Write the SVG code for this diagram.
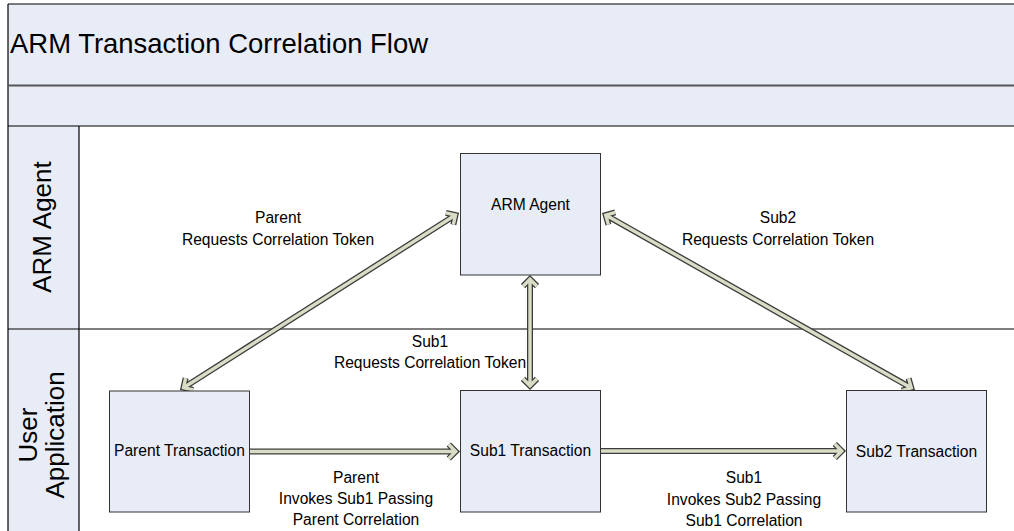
<svg xmlns="http://www.w3.org/2000/svg" width="1014" height="531" viewBox="0 0 1014 531">
<style>
.band{fill:#E8ECF6;}
.box{fill:#E8ECF6;stroke:#333333;stroke-width:1;}
.t{font-family:"Liberation Sans",Arial,sans-serif;fill:#000;text-anchor:middle;}
.sm{font-size:15.6px;}
.lane{font-size:26px;}
.ao{fill:none;stroke:#3C3C3C;stroke-width:6;stroke-linejoin:miter;stroke-miterlimit:10;}
.ai{fill:none;stroke:#DADDC6;stroke-width:3.4;stroke-linejoin:miter;stroke-miterlimit:10;}
</style>
<rect x="0" y="0" width="1014" height="531" fill="#FFFFFF"/>
<g id="pool">
<rect class="band" x="8" y="4" width="1006" height="122"/>
<rect class="band" x="8" y="126" width="71" height="405"/>
<line x1="8" y1="4" x2="1014" y2="4" stroke="#000" stroke-width="1.2"/>
<line x1="8" y1="4" x2="8" y2="531" stroke="#000" stroke-width="1.2"/>
<line x1="8" y1="85.5" x2="1014" y2="85.5" stroke="#555" stroke-width="2"/>
<line x1="8" y1="126" x2="1014" y2="126" stroke="#000" stroke-width="1.2"/>
<line x1="79" y1="126" x2="79" y2="531" stroke="#000" stroke-width="1.2"/>
<line x1="8" y1="329" x2="1014" y2="329" stroke="#000" stroke-width="1.2"/>
<text x="10" y="53" font-family="Liberation Sans,Arial,sans-serif" font-size="28" textLength="418" lengthAdjust="spacingAndGlyphs">ARM Transaction Correlation Flow</text>
</g>
<g id="lane-arm-agent">
<text class="t lane" transform="translate(51,227) rotate(-90)">ARM Agent</text>
</g>
<g id="lane-user-application">
<text class="t lane" transform="translate(37,435) rotate(-90)">User</text>
<text class="t lane" transform="translate(64,435) rotate(-90)">Application</text>
</g>
<g id="connectors">
<path class="ao" d="M183.5,387.7 L455.5,215 M453.35,224.65 L455.5,215 L445.85,212.85 M193.15,389.85 L183.5,387.7 L185.65,378.05"/>
<path class="ao" d="M605.7,215.1 L911.3,387.9 M608.4,224.6 L605.7,215.1 L615.2,212.4 M901.8,390.6 L911.3,387.9 L908.6,378.4"/>
<path class="ao" d="M530,279.2 L530,385.8 M523,286.2 L530,279.2 L537,286.2 M523,378.8 L530,385.8 L537,378.8"/>
<path class="ao" d="M249,451.5 L455,451.5 M448.8,444.5 L455.8,451.5 L448.8,458.5"/>
<path class="ao" d="M600,451 L841,451 M834.8,444 L841.8,451 L834.8,458"/>
<path class="ai" d="M183.5,387.7 L455.5,215 M453.35,224.65 L455.5,215 L445.85,212.85 M193.15,389.85 L183.5,387.7 L185.65,378.05"/>
<path class="ai" d="M605.7,215.1 L911.3,387.9 M608.4,224.6 L605.7,215.1 L615.2,212.4 M901.8,390.6 L911.3,387.9 L908.6,378.4"/>
<path class="ai" d="M530,279.2 L530,385.8 M523,286.2 L530,279.2 L537,286.2 M523,378.8 L530,385.8 L537,378.8"/>
<path class="ai" d="M249,451.5 L455,451.5 M448.8,444.5 L455.8,451.5 L448.8,458.5"/>
<path class="ai" d="M600,451 L841,451 M834.8,444 L841.8,451 L834.8,458"/>
<text class="t sm" x="278" y="223">Parent</text>
<text class="t sm" x="278" y="245">Requests Correlation Token</text>
<text class="t sm" x="778" y="223">Sub2</text>
<text class="t sm" x="778" y="245">Requests Correlation Token</text>
<text class="t sm" x="430" y="346.5">Sub1</text>
<text class="t sm" x="430" y="368">Requests Correlation Token</text>
<text class="t sm" x="356" y="482.5">Parent</text>
<text class="t sm" x="356" y="503.5">Invokes Sub1 Passing</text>
<text class="t sm" x="356" y="525">Parent Correlation</text>
<text class="t sm" x="744" y="483">Sub1</text>
<text class="t sm" x="744" y="504.5">Invokes Sub2 Passing</text>
<text class="t sm" x="744" y="525.5">Sub1 Correlation</text>
</g>
<g id="arm-agent">
<rect class="box" x="460.5" y="153.5" width="140" height="121.5"/>
<text class="t sm" x="530.5" y="209.5">ARM Agent</text>
</g>
<g id="parent-transaction">
<rect class="box" x="109.5" y="391" width="140" height="121"/>
<text class="t sm" x="179.5" y="456">Parent Transaction</text>
</g>
<g id="sub1-transaction">
<rect class="box" x="460.5" y="390.5" width="140" height="121.5"/>
<text class="t sm" x="530.5" y="456">Sub1 Transaction</text>
</g>
<g id="sub2-transaction">
<rect class="box" x="846.5" y="390.5" width="140" height="121.5"/>
<text class="t sm" x="916.5" y="456.5">Sub2 Transaction</text>
</g>
</svg>
